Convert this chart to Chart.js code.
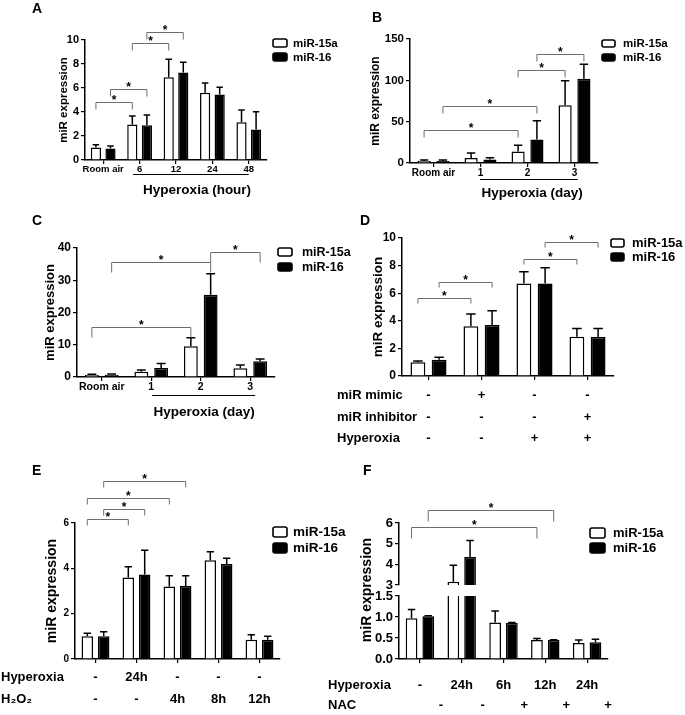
<!DOCTYPE html>
<html>
<head>
<meta charset="utf-8">
<script src="https://cdn.jsdelivr.net/npm/chart.js@4.4.1/dist/chart.umd.min.js"></script>
<style>
body { margin: 0; background: #fff; }
#wrap { position: relative; width: 685px; height: 715px; }
#wrap canvas { position: absolute; left: 0; top: 0; }
</style>
</head>
<body>
<div id="wrap">
<canvas id="chart_a" width="685" height="715"></canvas>
<canvas id="chart_b" width="685" height="715"></canvas>
<canvas id="chart_c" width="685" height="715"></canvas>
<canvas id="chart_d" width="685" height="715"></canvas>
<canvas id="chart_e" width="685" height="715"></canvas>
<canvas id="chart_f_top" width="685" height="715"></canvas>
<canvas id="chart_f_bottom" width="685" height="715"></canvas>
</div>
<script>
/* data */
var seriesNames = ['miR-15a', 'miR-16'];

var a_labels = ['Room air', '6', '12', '24', '48'];
var a_15a = [1.05, 2.95, 6.9, 5.6, 3.15];
var a_15a_err = [0.22, 0.72, 1.5, 0.82, 1.02];
var a_16 = [0.95, 2.9, 7.3, 5.45, 2.55];
var a_16_err = [0.22, 0.85, 0.85, 0.62, 1.48];
var a_sig = [[0, 0, 1, 0, 4.85], [0, 1, 1, 1, 5.9], [1, 0, 2, 0, 9.75], [1, 1, 2, 1, 10.65]];

var b_labels = ['Room air', '1', '2', '3'];
var b_15a = [2.5, 6, 14, 70];
var b_15a_err = [1.2, 6.2, 7.5, 29.5];
var b_16 = [2.3, 4.3, 28.5, 102];
var b_16_err = [1.2, 2.2, 22.5, 17.5];
var b_sig = [[0, 0, 2, 0, 40], [0, 1, 2, 1, 69], [2, 0, 3, 0, 112], [2, 1, 3, 1, 132]];

var c_labels = ['Room air', '1', '2', '3'];
var c_15a = [0.6, 1.6, 9.5, 2.7];
var c_15a_err = [0.25, 0.6, 2.7, 1.0];
var c_16 = [0.7, 2.8, 25.5, 4.9];
var c_16_err = [0.2, 1.4, 6.5, 0.7];
var c_sig = [[0, 0, 2, 0, 15.5], [0, 1, 2, 1, 35.7], [2, 1, 3, 1, 38.8]];

var d_labels = ['control', 'mimic', 'hyperoxia', 'hyperoxia + inhibitor'];
var d_15a = [1.0, 3.6, 6.7, 2.85];
var d_15a_err = [0.08, 0.9, 0.85, 0.6];
var d_16 = [1.18, 3.7, 6.7, 2.82];
var d_16_err = [0.18, 1.02, 1.15, 0.62];
var d_sig = [[0, 0, 1, 0, 5.65], [0, 1, 1, 1, 6.8], [2, 0, 3, 0, 8.5], [2, 1, 3, 1, 9.7]];
var d_rowNames = ['miR mimic', 'miR inhibitor', 'Hyperoxia'];
var d_rowValues = [['-', '+', '-', '-'], ['-', '-', '-', '+'], ['-', '-', '+', '+']];

var e_labels = ['control', 'hyperoxia 24h', 'H2O2 4h', 'H2O2 8h', 'H2O2 12h'];
var e_15a = [1.0, 3.6, 3.2, 4.36, 0.85];
var e_15a_err = [0.14, 0.47, 0.47, 0.37, 0.22];
var e_16 = [1.0, 3.73, 3.22, 4.19, 0.85];
var e_16_err = [0.2, 1.07, 0.45, 0.25, 0.15];
var e_sig = [[0, 0, 1, 0, 6.18], [0, 1, 1, 1, 6.62], [0, 0, 2, 0, 7.1], [0, 1, 2, 1, 7.85]];
var e_rowNames = ['Hyperoxia', 'H\u2082O\u2082'];
var e_rowValues = [['-', '24h', '-', '-', '-'], ['-', '-', '4h', '8h', '12h']];

var f_labels = ['control', 'hyperoxia 24h', 'NAC 6h', 'NAC 12h', 'NAC 24h'];
var f_15a = [0.97, 3.16, 0.87, 0.45, 0.38];
var f_15a_err = [0.21, 0.8, 0.27, 0.04, 0.07];
var f_16 = [1.02, 4.36, 0.86, 0.45, 0.4];
var f_16_err = [0.01, 0.79, 0.01, 0.01, 0.07];
var f_sig = [[0, 0, 3, 0, 5.8], [0, 1, 3, 1, 6.63]];
var f_rowNames = ['Hyperoxia', 'NAC'];
var f_rowValues = [['-', '24h', '6h', '12h', '24h'], ['-', '-', '+', '+', '+']];

var FONT = '"Liberation Sans", Arial, Helvetica, sans-serif';
function boldFont(size) { return 'bold ' + size + 'px ' + FONT; }

var extrasById = {};

// upper error bars, Prism style
var errorBars = {
    id: 'errorBars',
    afterDatasetsDraw: function(chart) {
        var ctx = chart.ctx, area = chart.chartArea, yScale = chart.scales.y;
        ctx.save();
        ctx.beginPath();
        ctx.rect(area.left, area.top - 1, area.right - area.left, area.bottom - area.top + 1);
        ctx.clip();
        ctx.strokeStyle = '#000';
        ctx.lineWidth = 1.5;
        chart.data.datasets.forEach(function(ds, i) {
            chart.getDatasetMeta(i).data.forEach(function(bar, j) {
                var top = yScale.getPixelForValue(ds.data[j] + ds.errors[j]);
                var half = bar.width * 0.32;
                ctx.beginPath();
                ctx.moveTo(bar.x, bar.y);
                ctx.lineTo(bar.x, top);
                ctx.moveTo(bar.x - half, top);
                ctx.lineTo(bar.x + half, top);
                ctx.stroke();
            });
        });
        ctx.restore();
    }
};

// brackets, legend, panel letters, condition rows
var extras = {
    id: 'extras',
    afterDraw: function(chart) {
        var o = extrasById[chart.canvas.id];
        if (!o) return;
        var ctx = chart.ctx, xScale = chart.scales.x, yScale = chart.scales.y;
        ctx.save();
        ctx.fillStyle = '#000';
        if (o.letter) {
            ctx.font = boldFont(14);
            ctx.textAlign = 'left';
            ctx.textBaseline = 'alphabetic';
            ctx.fillText(o.letter[0], o.letter[1], o.letter[2]);
        }
        (o.sig || []).forEach(function(s) {
            var x1 = chart.getDatasetMeta(s[1]).data[s[0]].x;
            var x2 = chart.getDatasetMeta(s[3]).data[s[2]].x;
            var yy = Math.round(yScale.getPixelForValue(s[4])) + 0.5;
            ctx.strokeStyle = '#6e6e6e';
            ctx.lineWidth = 1;
            ctx.beginPath();
            ctx.moveTo(x1, yy + o.drop);
            ctx.lineTo(x1, yy);
            ctx.lineTo(x2, yy);
            ctx.lineTo(x2, yy + o.drop);
            ctx.stroke();
            ctx.font = boldFont(12);
            ctx.textAlign = 'center';
            ctx.textBaseline = 'alphabetic';
            ctx.fillStyle = '#000';
            ctx.fillText('*', (x1 + x2) / 2, yy + 1);
        });
        if (o.legend) {
            var L = o.legend;
            chart.data.datasets.forEach(function(ds, i) {
                var by = L.y + i * L.gap;
                ctx.fillStyle = ds.backgroundColor;
                ctx.strokeStyle = '#000';
                ctx.lineWidth = 1.6;
                ctx.beginPath();
                ctx.roundRect(L.x, by, L.w, L.h, 2);
                ctx.fill();
                ctx.stroke();
                ctx.fillStyle = '#000';
                ctx.font = boldFont(L.font);
                ctx.textAlign = 'left';
                ctx.textBaseline = 'middle';
                ctx.fillText(ds.label, L.x + L.w + L.pad, by + L.h / 2 + 0.5);
            });
        }
        if (o.group) {
            var G = o.group;
            ctx.strokeStyle = '#000';
            ctx.lineWidth = 1;
            ctx.beginPath();
            ctx.moveTo(xScale.getPixelForValue(G.from), G.y + 0.5);
            ctx.lineTo(xScale.getPixelForValue(G.to), G.y + 0.5);
            ctx.stroke();
            ctx.font = boldFont(13.5);
            ctx.textAlign = 'center';
            ctx.textBaseline = 'middle';
            ctx.fillText(G.text, xScale.getPixelForValue(G.mid), G.ty);
        }
        if (o.rows) {
            var R = o.rows;
            ctx.font = boldFont(R.font);
            ctx.textBaseline = 'middle';
            R.names.forEach(function(name, r) {
                ctx.textAlign = 'left';
                ctx.fillText(name, R.x, R.y[r]);
                ctx.textAlign = 'center';
                R.values[r].forEach(function(v, i) {
                    var shift = R.shift ? R.shift[r] : 0;
                    ctx.fillText(v, xScale.getPixelForValue(i + shift), R.y[r]);
                });
            });
        }
        if (o.yTitle) {
            ctx.translate(o.yTitle.x, o.yTitle.y);
            ctx.rotate(-Math.PI / 2);
            ctx.font = boldFont(o.yTitle.font);
            ctx.textAlign = 'center';
            ctx.textBaseline = 'middle';
            ctx.fillText(o.yTitle.text, 0, 0);
        }
        ctx.restore();
    }
};

function buildPanel(id, p) {
    var ctx = document.getElementById(id).getContext('2d');
    var left = p.titleX ? p.titleX - 0.6 * p.titleSize : p.x0 - 40;
    var yW = p.x0 - left;
    var xH = p.xH || 0;
    extrasById[id] = p.extras;
    return new Chart(ctx, {
        type: 'bar',
        data: {
            labels: p.labels,
            datasets: [
                { label: seriesNames[0], data: p.s1, errors: p.e1, backgroundColor: '#ffffff', borderColor: '#000000', borderWidth: 1.5 },
                { label: seriesNames[1], data: p.s2, errors: p.e2, backgroundColor: '#000000', borderColor: '#000000', borderWidth: 1.5 }
            ]
        },
        options: {
            responsive: false,
            animation: false,
            events: [],
            layout: { padding: { left: left, top: p.top, right: 685 - p.x1, bottom: 715 - p.bottom - xH } },
            datasets: { bar: { barPercentage: 0.7, categoryPercentage: 0.8 } },
            plugins: { legend: { display: false }, tooltip: { enabled: false } },
            scales: {
                x: {
                    display: p.xDisplay !== false,
                    afterFit: function(s) { s.height = xH; },
                    grid: { drawOnChartArea: false, drawTicks: true, tickLength: 4, offset: false, color: '#000', lineWidth: 1.2 },
                    border: { color: '#000', width: 1.5 },
                    ticks: {
                        display: !!p.xFont,
                        autoSkip: false, maxRotation: 0, padding: 0, color: '#000',
                        font: { family: FONT, weight: 'bold', size: p.xFont || 10 }
                    }
                },
                y: {
                    min: p.min, max: p.max,
                    afterFit: function(s) { s.width = yW; },
                    grid: { drawOnChartArea: false, drawTicks: true, tickLength: 4, color: '#000', lineWidth: 1.2 },
                    border: { color: '#000', width: 1.5 },
                    ticks: {
                        stepSize: p.step, padding: 2, color: '#000',
                        font: { family: FONT, weight: 'bold', size: p.yFont },
                        callback: function(v) { return p.decimals ? v.toFixed(p.decimals) : v; }
                    },
                    title: {
                        display: !!p.titleX, text: 'miR expression', color: '#000', padding: 0,
                        font: { family: FONT, weight: 'bold', size: p.titleSize || 12 }
                    }
                }
            }
        },
        plugins: [errorBars, extras]
    });
}

buildPanel('chart_a', {
    labels: a_labels, s1: a_15a, e1: a_15a_err, s2: a_16, e2: a_16_err,
    x0: 85, x1: 267, top: 40, bottom: 160, xH: 20, titleX: 64, titleSize: 11.5,
    min: 0, max: 10, step: 2, yFont: 11, xFont: 9.5,
    extras: {
        letter: ['A', 32, 13], sig: a_sig, drop: 7,
        legend: { x: 273, y: 39, gap: 14, w: 14, h: 8, font: 11.5, pad: 6 },
        group: { from: 0.82, to: 4.0, y: 174, mid: 2.58, ty: 190, text: 'Hyperoxia (hour)' }
    }
});

buildPanel('chart_b', {
    labels: b_labels, s1: b_15a, e1: b_15a_err, s2: b_16, e2: b_16_err,
    x0: 410, x1: 598, top: 39, bottom: 163, xH: 20, titleX: 376, titleSize: 12,
    min: 0, max: 150, step: 50, yFont: 11.5, xFont: 10,
    extras: {
        letter: ['B', 372, 22], sig: b_sig, drop: 7,
        legend: { x: 602, y: 40, gap: 14, w: 13, h: 7, font: 11.5, pad: 8 },
        group: { from: 0.99, to: 3.07, y: 179, mid: 2.1, ty: 193, text: 'Hyperoxia (day)' }
    }
});

buildPanel('chart_c', {
    labels: c_labels, s1: c_15a, e1: c_15a_err, s2: c_16, e2: c_16_err,
    x0: 77, x1: 275, top: 248, bottom: 377, xH: 20, titleX: 50, titleSize: 13,
    min: 0, max: 40, step: 10, yFont: 12, xFont: 10.5,
    extras: {
        letter: ['C', 32, 225], sig: c_sig, drop: 10,
        legend: { x: 278, y: 248, gap: 15, w: 14, h: 8, font: 12.5, pad: 10 },
        group: { from: 1.02, to: 3.1, y: 395, mid: 2.07, ty: 412, text: 'Hyperoxia (day)' }
    }
});

buildPanel('chart_d', {
    labels: d_labels, s1: d_15a, e1: d_15a_err, s2: d_16, e2: d_16_err,
    x0: 402, x1: 614, top: 238, bottom: 376, xH: 10, titleX: 378, titleSize: 13.5,
    min: 0, max: 10, step: 2, yFont: 12,
    extras: {
        letter: ['D', 360, 225], sig: d_sig, drop: 5,
        legend: { x: 611, y: 239, gap: 14, w: 13, h: 8, font: 13, pad: 8 },
        rows: { x: 337, y: [395, 417, 438], font: 13, names: d_rowNames, values: d_rowValues }
    }
});

buildPanel('chart_e', {
    labels: e_labels, s1: e_15a, e1: e_15a_err, s2: e_16, e2: e_16_err,
    x0: 75, x1: 280, top: 523, bottom: 659, xH: 10, titleX: 52, titleSize: 14,
    min: 0, max: 6, step: 2, yFont: 10,
    extras: {
        letter: ['E', 32, 475], sig: e_sig, drop: 6,
        legend: { x: 273, y: 527, gap: 16, w: 14, h: 10, font: 13.5, pad: 6 },
        rows: { x: 1, y: [677, 699], font: 13, names: e_rowNames, values: e_rowValues }
    }
});

// panel F has a broken y axis: two charts sharing the same x layout
buildPanel('chart_f_top', {
    labels: f_labels, s1: f_15a, e1: f_15a_err, s2: f_16, e2: f_16_err,
    x0: 399, x1: 608, top: 523, bottom: 585, xDisplay: false,
    min: 3, max: 6, step: 1, yFont: 13,
    extras: {
        letter: ['F', 363, 475], sig: f_sig, drop: 11,
        legend: { x: 590, y: 528, gap: 15, w: 15, h: 10, font: 13, pad: 8 }
    }
});

buildPanel('chart_f_bottom', {
    labels: f_labels, s1: f_15a, e1: f_15a_err, s2: f_16, e2: f_16_err,
    x0: 399, x1: 608, top: 596, bottom: 659, xH: 10,
    min: 0, max: 1.5, step: 0.5, yFont: 13, decimals: 1,
    extras: {
        rows: { x: 328, y: [685, 705], font: 13, names: f_rowNames, values: f_rowValues, shift: [0, 0.5] },
        yTitle: { text: 'miR expression', x: 367, y: 590, font: 14 }
    }
});
</script>
</body>
</html>
